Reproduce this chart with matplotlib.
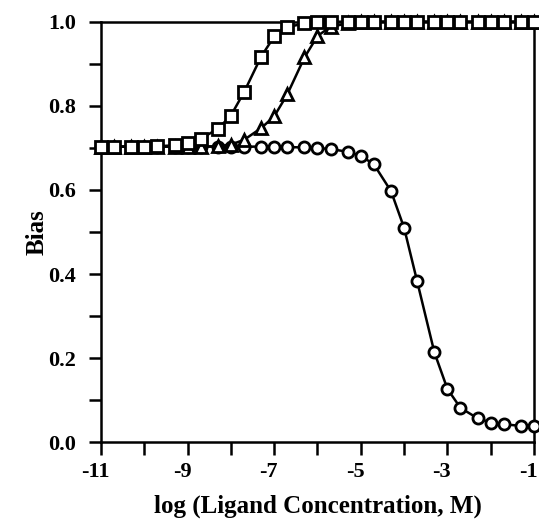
import numpy as np
import matplotlib
matplotlib.use("Agg")
import matplotlib.pyplot as plt
import matplotlib.transforms as mtransforms
from matplotlib.ticker import MultipleLocator

# log concentrations: 1, 2, 5 x 10^n from 1e-11 to 1e-1
log_conc = [-11, -10.699, -10.301, -10, -9.699, -9.301, -9, -8.699, -8.301, -8,
            -7.699, -7.301, -7, -6.699, -6.301, -6, -5.699, -5.301, -5, -4.699,
            -4.301, -4, -3.699, -3.301, -3, -2.699, -2.301, -2, -1.699, -1.301, -1]

bias_square = [0.703, 0.703, 0.703, 0.703, 0.704, 0.706, 0.711, 0.722, 0.745, 0.777,
               0.832, 0.917, 0.965, 0.987, 0.996, 0.999, 1.0, 1.0, 1.0, 1.0,
               1.0, 1.0, 1.0, 1.0, 1.0, 1.0, 1.0, 1.0, 1.0, 1.0, 1.0]

bias_triangle = [0.703, 0.703, 0.703, 0.703, 0.703, 0.703, 0.703, 0.703, 0.704, 0.708,
                 0.719, 0.747, 0.775, 0.827, 0.915, 0.966, 0.988, 0.996, 0.999, 1.0,
                 1.0, 1.0, 1.0, 1.0, 1.0, 1.0, 1.0, 1.0, 1.0, 1.0, 1.0]

bias_circle = [0.703, 0.703, 0.703, 0.703, 0.703, 0.703, 0.703, 0.703, 0.703, 0.703,
               0.703, 0.703, 0.703, 0.702, 0.701, 0.700, 0.697, 0.691, 0.681, 0.661,
               0.597, 0.510, 0.383, 0.214, 0.127, 0.082, 0.057, 0.047, 0.043, 0.039, 0.039]

xticks = [-11, -9, -7, -5, -3, -1]
yticks = [0.0, 0.2, 0.4, 0.6, 0.8, 1.0]

plt.rcParams['font.family'] = ['Liberation Serif', 'DejaVu Serif']
plt.rcParams['font.weight'] = 'bold'

fig = plt.figure(figsize=(5.39, 5.27), dpi=100)
ax = fig.add_axes([0.1874, 0.1607, 0.8033, 0.7981])

style = dict(color='black', linewidth=1.8, markersize=8, markeredgewidth=2.0,
             markerfacecolor='white', clip_on=False)
ax.plot(log_conc, bias_circle, marker='o', zorder=3, **style)
ax.plot(log_conc, bias_triangle, marker='^', zorder=4, **style)
ax.plot(log_conc, bias_square, marker='s', zorder=5, **style)

ax.set_xlim(-11, -1)
ax.set_ylim(0, 1)
ax.set_xticks(xticks)
ax.set_xticklabels([str(t) for t in xticks])
ax.set_yticks(yticks)
ax.set_yticklabels(["%.1f" % t for t in yticks])
ax.xaxis.set_minor_locator(MultipleLocator(1))
ax.yaxis.set_minor_locator(MultipleLocator(0.1))

for s in ax.spines.values():
    s.set_linewidth(1.8)
ax.tick_params(which='both', direction='out', length=9, width=1.8,
               labelsize=16)
ax.tick_params(axis='x', which='major', pad=5)
ax.tick_params(axis='y', which='major', pad=9)

# labels sit a little left of their ticks, as in the original
shift = mtransforms.ScaledTranslation(-4 / 72, 0, fig.dpi_scale_trans)
for lab in ax.get_xticklabels():
    lab.set_transform(lab.get_transform() + shift)

ax.set_xlabel("log (Ligand Concentration, M)", fontsize=18, fontweight='bold', labelpad=9)
ax.set_ylabel("Bias", fontsize=18, fontweight='bold', labelpad=0)

fig.savefig("out.png", dpi=100)
